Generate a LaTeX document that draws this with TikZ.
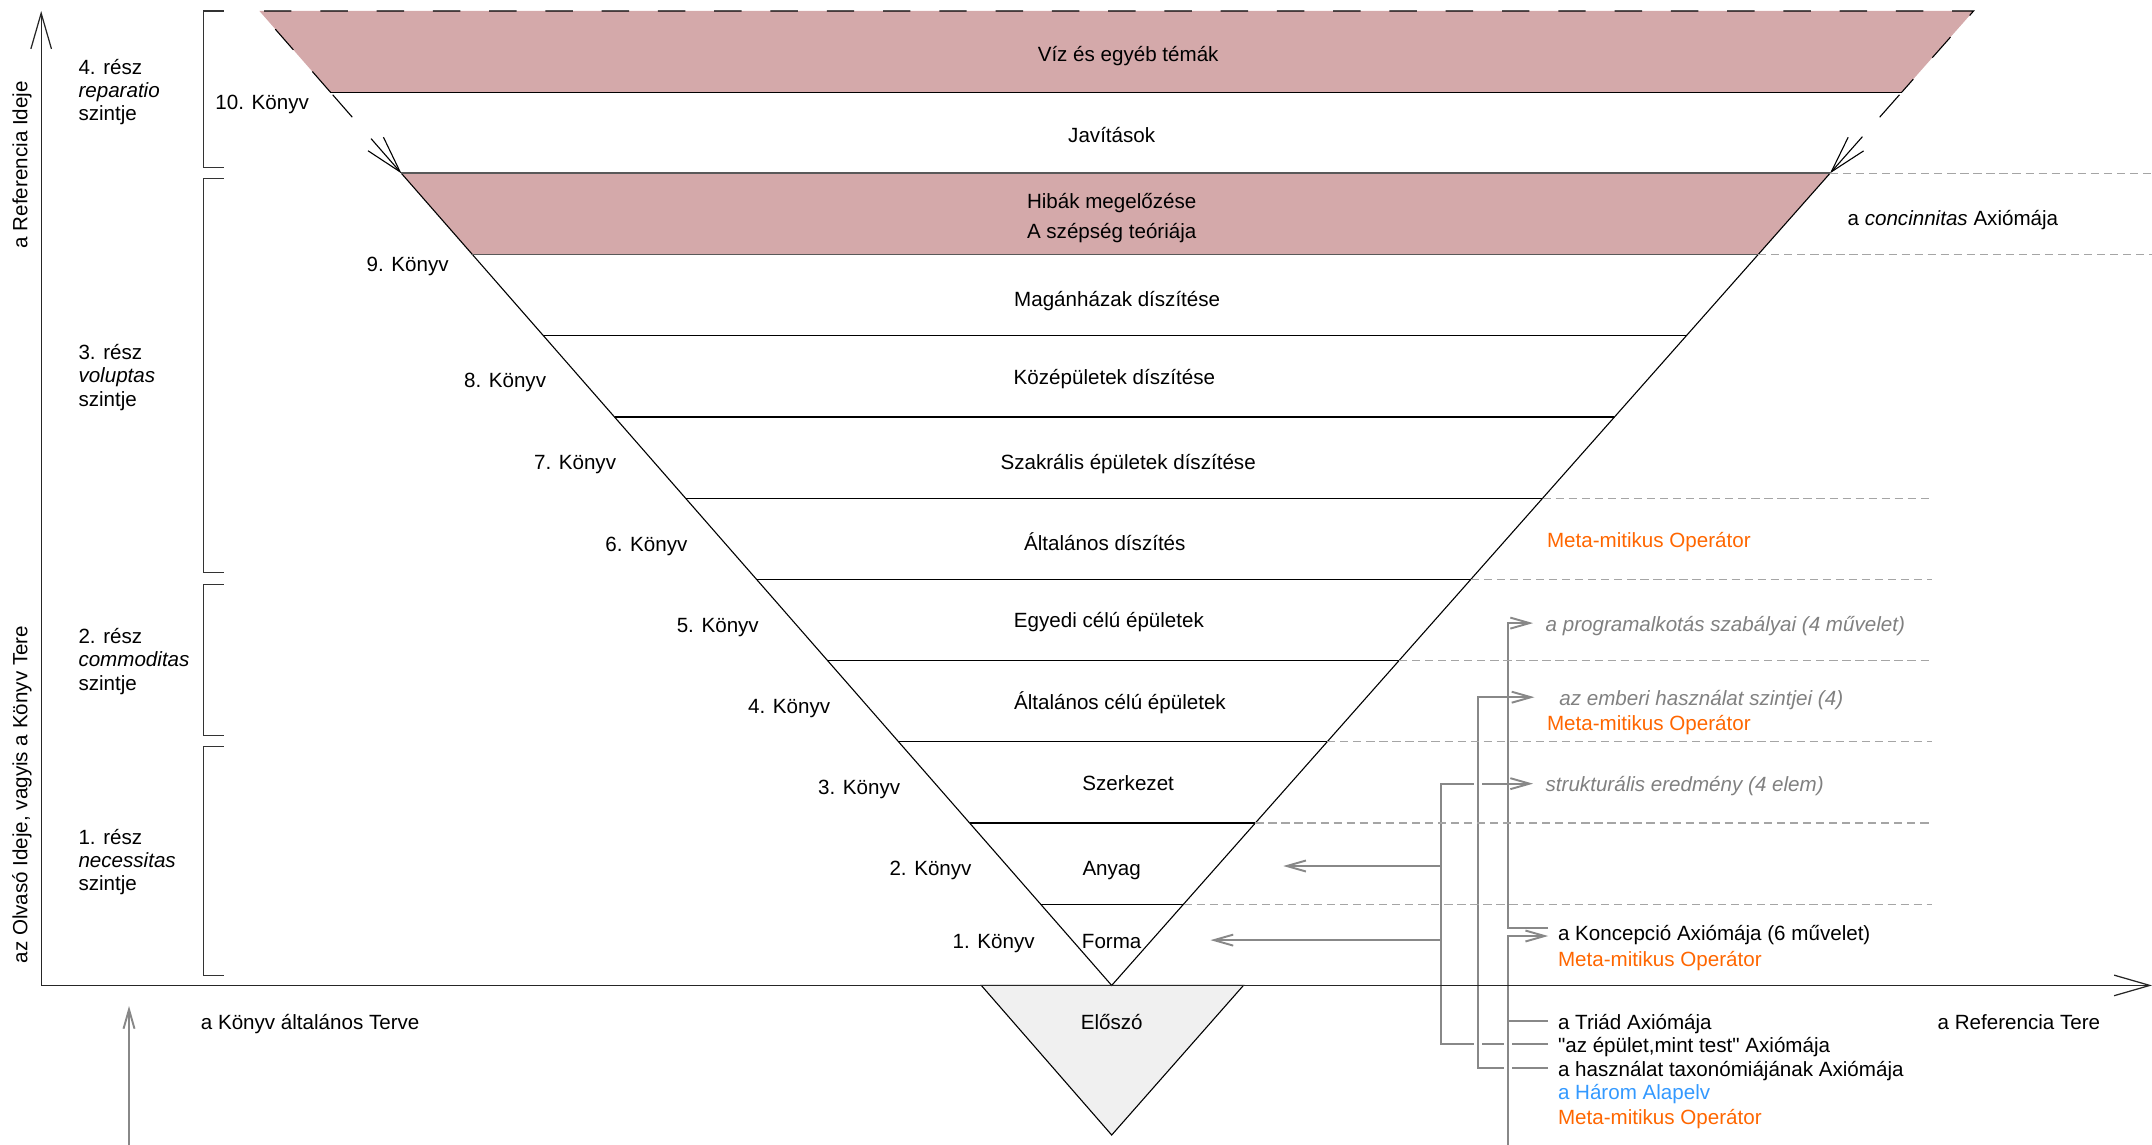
\documentclass[tikz,border=0pt]{standalone}
\usepackage{fontspec}
\setmainfont{Liberation Sans}
\usetikzlibrary{calc,arrows.meta}

\definecolor{bandpink}{RGB}{212,169,170}
\definecolor{prefacegray}{RGB}{240,240,240}
\definecolor{linkgray}{RGB}{136,136,136}
\definecolor{guidegray}{RGB}{165,165,165}
\definecolor{notegray}{RGB}{128,128,128}
\definecolor{metaorange}{RGB}{255,102,0}
\definecolor{ruleblue}{RGB}{51,153,255}

\begin{document}
\begin{tikzpicture}[x=1pt, y=-1pt,
	font=\fontsize{15}{17}\selectfont,
	every node/.style={inner sep=0pt},
	lbl/.style={text height=13pt, text depth=1pt},
	part/.style={anchor=west, align=left},
	axiom/.style={lbl, anchor=west, inner xsep=7pt},
	note/.style={lbl, anchor=west, inner xsep=9pt, text=notegray, font=\fontsize{15}{17}\selectfont\itshape},
	meta/.style={lbl, anchor=west, text=metaorange},
	edge/.style={line width=0.8pt},
	topedge/.style={line width=0.8pt, dash pattern=on 20pt off 21pt},
	hband/.style={line width=1.3pt, draw=black!65},
	guide/.style={draw=guidegray, line width=1pt, dash pattern=on 6pt off 3.5pt},
	link/.style={draw=linkgray, line width=1.4pt},
	linkarrow/.style={link, -{Straight Barb[length=14pt, width=8pt]}},
	halo/.style={preaction={draw=white, line width=6pt, -}},
	axis/.style={line width=0.9pt, draw=black!85, -{Straight Barb[length=26pt, width=15pt]}},
	bracket/.style={line width=0.8pt, draw=black!80}
	]

	\useasboundingbox (0,0) rectangle (1568,834);

	% the inverted triangle of the books
	\coordinate (apex) at (810,718);
	\coordinate (tl) at (189,8);
	\coordinate (tr) at (1438,8);
	\coordinate (l1) at ($(apex)!11/12!(tl)$);	\coordinate (r1) at ($(apex)!11/12!(tr)$);
	\coordinate (l2) at ($(apex)!10/12!(tl)$);	\coordinate (r2) at ($(apex)!10/12!(tr)$);
	\coordinate (l3) at ($(apex)!9/12!(tl)$);	\coordinate (r3) at ($(apex)!9/12!(tr)$);
	\coordinate (l4) at ($(apex)!8/12!(tl)$);	\coordinate (r4) at ($(apex)!8/12!(tr)$);
	\coordinate (l5) at ($(apex)!7/12!(tl)$);	\coordinate (r5) at ($(apex)!7/12!(tr)$);
	\coordinate (l6) at ($(apex)!6/12!(tl)$);	\coordinate (r6) at ($(apex)!6/12!(tr)$);
	\coordinate (l7) at ($(apex)!5/12!(tl)$);	\coordinate (r7) at ($(apex)!5/12!(tr)$);
	\coordinate (l8) at ($(apex)!4/12!(tl)$);	\coordinate (r8) at ($(apex)!4/12!(tr)$);
	\coordinate (l9) at ($(apex)!3/12!(tl)$);	\coordinate (r9) at ($(apex)!3/12!(tr)$);
	\coordinate (l10) at ($(apex)!2/12!(tl)$);	\coordinate (r10) at ($(apex)!2/12!(tr)$);
	\coordinate (l11) at ($(apex)!1/12!(tl)$);	\coordinate (r11) at ($(apex)!1/12!(tr)$);

	\fill[bandpink] (tl) -- (tr) -- (r1) -- (l1) -- cycle;
	\fill[bandpink] (l2) -- (r2) -- (r3) -- (l3) -- cycle;

	\coordinate (pl) at (715,718);
	\coordinate (pr) at (906,718);
	\coordinate (pb) at (810,827);
	\draw[edge, fill=prefacegray] (pl) -- (pb) -- (pr) -- cycle;

	\draw[topedge] (l1) -- (tl) -- (tr) -- (r1);
	\draw[edge] (l2) -- (apex) -- (r2);

	\draw[edge] (l1) -- (r1);
	\draw[hband] (l2) -- (r2);
	\draw[hband] (l3) -- (r3);
	\draw[edge] (l4) -- (r4);
	\draw[edge] (l5) -- (r5);
	\draw[edge] (l6) -- (r6);
	\draw[edge] (l7) -- (r7);
	\draw[edge] (l8) -- (r8);
	\draw[edge] (l9) -- (r9);
	\draw[edge] (l10) -- (r10);
	\draw[edge] (l11) -- (r11);

	% broken edges of the 10th book
	\draw[edge] ($(apex)!0.914!(tl)$) -- ($(apex)!0.891!(tl)$);
	\draw[edge, -{Straight Barb[length=27pt, width=15pt]}] ($(apex)!0.869!(tl)$) -- (l2);
	\draw[edge] ($(apex)!0.914!(tr)$) -- ($(apex)!0.891!(tr)$);
	\draw[edge, -{Straight Barb[length=27pt, width=15pt]}] ($(apex)!0.871!(tr)$) -- (r2);

	% parts
	\draw[bracket] (163,8) -- (148,8) -- (148,122) -- (163,122);
	\draw[bracket] (163,130) -- (148,130) -- (148,417) -- (163,417);
	\draw[bracket] (163,426) -- (148,426) -- (148,536) -- (163,536);
	\draw[bracket] (163,544) -- (148,544) -- (148,711) -- (163,711);

	\node (part4) [part] at (57,67) {4. rész\\\textit{reparatio}\\szintje};
	\node (part3) [part] at (57,275) {3. rész\\\textit{voluptas}\\szintje};
	\node (part2) [part] at (57,482) {2. rész\\\textit{commoditas}\\szintje};
	\node (part1) [part] at (57,628) {1. rész\\\textit{necessitas}\\szintje};

	% books
	\node (water) [lbl] at (822,39) {Víz és egyéb témák};
	\node (repairs) [lbl] at (810,98) {Javítások};
	\node (faults) [lbl] at (810,146) {Hibák megelőzése};
	\node (beauty) [lbl] at (810,168) {A szépség teóriája};
	\node (privdeco) [lbl] at (814,217) {Magánházak díszítése};
	\node (pubdeco) [lbl] at (812,274) {Középületek díszítése};
	\node (sacdeco) [lbl] at (822,336) {Szakrális épületek díszítése};
	\node (gendeco) [lbl] at (805,395) {Általános díszítés};
	\node (specbld) [lbl] at (808,451) {Egyedi célú épületek};
	\node (genbld) [lbl] at (816,511) {Általános célú épületek};
	\node (structure) [lbl] at (822,570) {Szerkezet};
	\node (matter) [lbl] at (810,632) {Anyag};
	\node (form) [lbl] at (810,685) {Forma};
	\node (preface) [lbl] at (810,744) {Előszó};

	\node (book10) [lbl] at (191,74) {10. Könyv};
	\node (book9) [lbl] at (297,192) {9. Könyv};
	\node (book8) [lbl] at (368,276) {8. Könyv};
	\node (book7) [lbl] at (419,336) {7. Könyv};
	\node (book6) [lbl] at (471,396) {6. Könyv};
	\node (book5) [lbl] at (523,455) {5. Könyv};
	\node (book4) [lbl] at (575,514) {4. Könyv};
	\node (book3) [lbl] at (626,573) {3. Könyv};
	\node (book2) [lbl] at (678,632) {2. Könyv};
	\node (book1) [lbl] at (724,685) {1. Könyv};

	% axioms and operators
	\node (concinn) [axiom] at (1339,158) {a \textit{concinnitas} Axiómája};
	\node (meta6) [meta] at (1127,393) {Meta-mitikus Operátor};
	\node (programalk) [note] at (1117,454) {a programalkotás szabályai (4 művelet)};
	\node (emberi) [note, inner xsep=18pt] at (1118,508) {az emberi használat szintjei (4)};
	\node (meta4) [meta] at (1127,526) {Meta-mitikus Operátor};
	\node (strukt) [note] at (1117,571) {strukturális eredmény (4 elem)};
	\node (koncepcio) [axiom] at (1128,679) {a Koncepció Axiómája (6 művelet)};
	\node (meta1) [meta] at (1135,698) {Meta-mitikus Operátor};
	\node (triad) [axiom] at (1128,744) {a Triád Axiómája};
	\node (epulet) [axiom] at (1128,761) {\textquotedbl az épület,mint test\textquotedbl{} Axiómája};
	\node (hasznalat) [axiom] at (1128,778) {a használat taxonómiájának Axiómája};
	\node (harom) [meta, text=ruleblue] at (1135,795) {a Három Alapelv};
	\node (metafoot) [meta] at (1135,813) {Meta-mitikus Operátor};

	% links
	\coordinate (abus) at (1050,0);
	\coordinate (bbus) at (1077,0);
	\coordinate (cbus) at (1099,0);
	\coordinate (cfoot) at (1099,834);
	\coordinate (anyagtip) at (935,631);
	\coordinate (formatip) at (882,685);

	\draw[linkarrow] (epulet.west) -| (abus |- strukt.west) -- (strukt.west);
	\draw[linkarrow] (abus |- anyagtip) -- (anyagtip);
	\draw[linkarrow] (abus |- formatip) -- (formatip);
	\draw[linkarrow, halo] (hasznalat.west) -| (bbus |- emberi.west) -- (emberi.west);
	\draw[linkarrow] ($(koncepcio.west)+(0,-3)$) -| (cbus |- programalk.west) -- (programalk.west);
	\draw[linkarrow, halo] (cfoot) |- ($(koncepcio.west)+(0,3)$);
	\draw[link] (cbus |- triad.west) -- (triad.west);

	% guide lines
	\coordinate (guideend) at (1408,0);
	\coordinate (farend) at (1568,0);
	\draw[guide] (r2) -- (r2 -| farend);
	\draw[guide] (r3) -- (r3 -| farend);
	\draw[guide] (r6) -- (r6 -| guideend);
	\draw[guide] (r7) -- (r7 -| guideend);
	\draw[guide] (r8) -- (r8 -| guideend);
	\draw[guide] (r9) -- (r9 -| guideend);
	\draw[guide] (r10) -- (r10 -| guideend);
	\draw[guide] (r11) -- (r11 -| guideend);

	% axes
	\coordinate (origin) at (30,718);
	\coordinate (timeend) at (30,8);
	\coordinate (spaceend) at (1568,718);
	\draw[axis] (origin) -- (timeend);
	\draw[axis] (origin) -- (spaceend);

	\coordinate (readfoot) at (94,834);
	\coordinate (readtip) at (94,733);
	\draw[linkarrow] (readfoot) -- (readtip);

	\node (reftime) [lbl, rotate=90] at (14,120) {a Referencia Ideje};
	\node (readtime) [lbl, rotate=90] at (14,579) {az Olvasó Ideje, vagyis a Könyv Tere};
	\node (bookplan) [lbl] at (226,744) {a Könyv általános Terve};
	\node (refspace) [lbl] at (1471,744) {a Referencia Tere};

\end{tikzpicture}
\end{document}
